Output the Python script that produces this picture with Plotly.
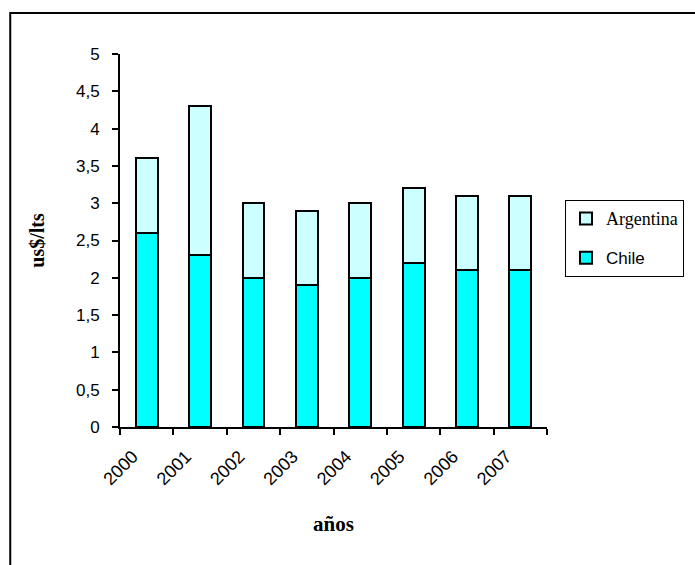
import plotly.graph_objects as go

# Precio por litro (us$/lts) por año
years = ["2000", "2001", "2002", "2003", "2004", "2005", "2006", "2007"]
chile = [2.6, 2.3, 2.0, 1.9, 2.0, 2.2, 2.1, 2.1]
argentina = [1.0, 2.0, 1.0, 1.0, 1.0, 1.0, 1.0, 1.0]

y_ticks = [0, 0.5, 1, 1.5, 2, 2.5, 3, 3.5, 4, 4.5, 5]
y_ticktext = [str(v).replace(".", ",") if v % 1 else str(int(v)) for v in y_ticks]

fig = go.Figure()
fig.add_trace(go.Bar(
    x=years, y=chile, name="Chile", legendgroup="chile", legendrank=2,
    marker=dict(color="#00FFFF", line=dict(color="black", width=2)),
))
fig.add_trace(go.Bar(
    x=years, y=argentina,
    name="<span style='font-family:Liberation Serif;font-size:18px'>Argentina</span>",
    legendgroup="arg", legendrank=1,
    marker=dict(color="#CCFFFF", line=dict(color="black", width=2)),
))

W, H = 695, 565
L, R, T, B = 120, 147, 54, 138
pw, ph = W - L - R, H - T - B

def px_x(p):
    return (p - L) / pw

def px_y(p):
    return (H - B - p) / ph

fig.update_layout(
    width=W, height=H,
    margin=dict(l=L, r=R, t=T, b=B, pad=0),
    barmode="stack", bargap=0.59,
    paper_bgcolor="white", plot_bgcolor="white",
    font=dict(family="Liberation Sans, Arial", size=17, color="black"),
    showlegend=True,
    legend=dict(
        x=px_x(565), y=px_y(200), xanchor="left", yanchor="top",
        bordercolor="black", borderwidth=1, bgcolor="white",
        font=dict(size=17), tracegroupgap=14, traceorder="grouped",
        itemwidth=30,
    ),
    xaxis=dict(
        type="category", showline=True, linecolor="black", linewidth=2,
        ticks="outside", ticklen=6, tickwidth=2, tickcolor="black",
        tickson="boundaries", tickangle=-45, showgrid=False,
        tickfont=dict(size=18), ticklabelshift=-14, ticklabelstandoff=10,
        title=dict(text="<b>años</b>", font=dict(family="Liberation Serif", size=21), standoff=28),
    ),
    yaxis=dict(
        range=[0, 5], tickvals=y_ticks, ticktext=y_ticktext,
        showline=True, linecolor="black", linewidth=2,
        ticks="outside", ticklen=6, tickwidth=2, tickcolor="black",
        showgrid=False, zeroline=False, ticklabelstandoff=9,
        title=dict(text="<b>us$/lts</b>", font=dict(family="Liberation Serif", size=20), standoff=26),
    ),
    shapes=[dict(
        type="rect", xref="paper", yref="paper",
        x0=px_x(10), x1=px_x(720), y0=px_y(590), y1=px_y(13),
        line=dict(color="black", width=2), fillcolor="rgba(0,0,0,0)", layer="below",
    )],
)

fig.write_html("out.html")
